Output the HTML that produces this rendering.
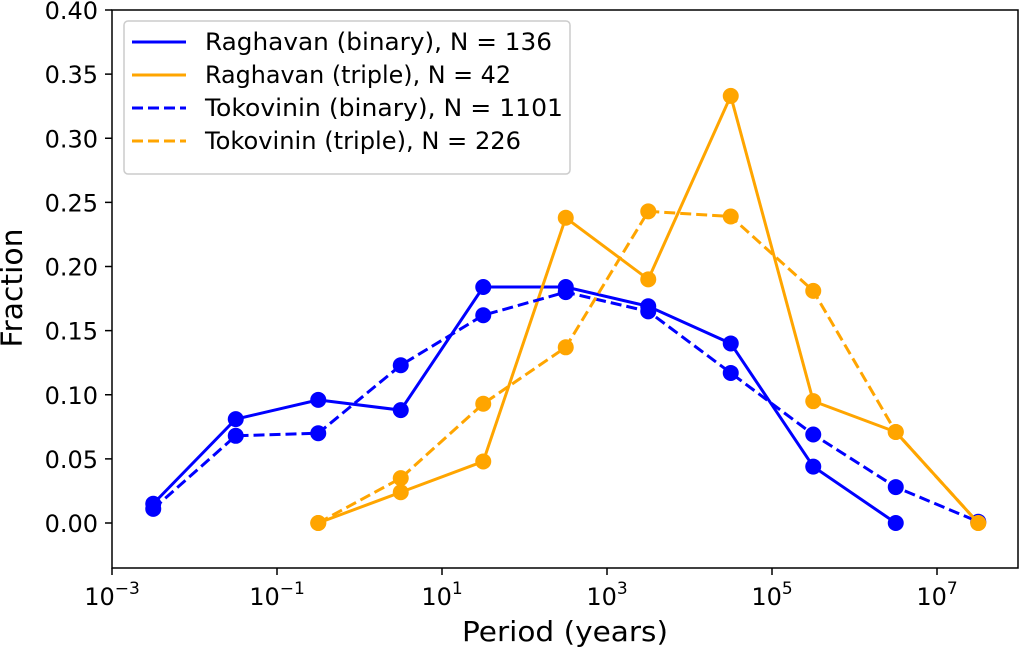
<!DOCTYPE html>
<html><head><meta charset="utf-8"><style>
html,body{margin:0;padding:0;background:#fff;}
svg{display:block;font-family:"DejaVu Sans","Liberation Sans",sans-serif;}
</style></head><body>
<svg id="chart" width="1020" height="652"></svg>
<script>
const categories = [-2.5,-1.5,-0.5,0.5,1.5,2.5,3.5,4.5,5.5,6.5,7.5];
const raghavanBinary = [0.015,0.081,0.096,0.088,0.184,0.184,0.169,0.140,0.044,0.0,null];
const tokovininBinary = [0.011,0.068,0.070,0.123,0.162,0.180,0.165,0.117,0.069,0.028,0.001];
const raghavanTriple = [null,null,0.0,0.024,0.048,0.238,0.190,0.333,0.095,0.071,0.0];
const tokovininTriple = [null,null,0.0,0.035,0.093,0.137,0.243,0.239,0.181,0.071,0.0];
const yTicks = [0,0.05,0.10,0.15,0.20,0.25,0.30,0.35,0.40];
const xTicks = [-3,-1,1,3,5,7];
const seriesNames = ["Raghavan (binary), N = 136","Raghavan (triple), N = 42","Tokovinin (binary), N = 1101","Tokovinin (triple), N = 226"];

const NS="http://www.w3.org/2000/svg";
const svg=document.getElementById('chart');
const L=112,R=1018,T=10,B=568;
const x=v=>112+(v+3)*82.5;
const y=v=>523-v*1282.5;
function el(tag,attrs,parent){const e=document.createElementNS(NS,tag);for(const k in attrs)e.setAttribute(k,attrs[k]);(parent||svg).appendChild(e);return e;}

yTicks.forEach(t=>{
  const g=el('g',{});
  
  
  el('line',{x1:L-7,x2:L,y1:y(t),y2:y(t),stroke:'#000','stroke-width':1.5},g);
  const tx=el('text',{x:L-14,y:y(t)+9,'text-anchor':'end','font-size':24},g);
  tx.textContent=t.toFixed(2);
});
xTicks.forEach(t=>{
  const g=el('g',{});
  
  
  el('line',{x1:x(t),x2:x(t),y1:B,y2:B+7,stroke:'#000','stroke-width':1.5},g);
  const tx=el('text',{x:x(t),y:B+37,'text-anchor':'middle','font-size':24},g);
  tx.textContent='10';
  const s=el('tspan',{dy:-11,'font-size':17},tx);s.textContent=(t<0?'\u2212':'')+Math.abs(t);
});

function series(vals,color,dash,name){
  const g=el('g',{});
  
  
  const pts=[];vals.forEach((v,i)=>{if(v!==null)pts.push([x(categories[i]),y(v)]);});
  el('polyline',{points:pts.map(p=>p.join(',')).join(' '),fill:'none',stroke:color,'stroke-width':3,'stroke-dasharray':dash||'none'},g);
  pts.forEach(p=>{const c=el('circle',{cx:p[0],cy:p[1],r:8,fill:color},g);});
}
series(raghavanBinary,'#0000ff',null,'raghavan-binary-series');
series(raghavanTriple,'#ffa500',null,'raghavan-triple-series');
series(tokovininBinary,'#0000ff','11 5','tokovinin-binary-series');
series(tokovininTriple,'#ffa500','11 5','tokovinin-triple-series');

const fr=el('rect',{x:L,y:T,width:R-L,height:B-T,fill:'none',stroke:'#000','stroke-width':1.5});


const lg=el('g',{});


el('rect',{x:124,y:21,width:446,height:153,rx:4,fill:'#fff','fill-opacity':0.8,stroke:'#ccc','stroke-width':1.5},lg);
const cols=['#0000ff','#ffa500','#0000ff','#ffa500'],dashes=[null,null,'11 5','11 5'];
const widths=[347,306,358,316];
seriesNames.forEach((n,i)=>{
  const e=el('g',{},lg);
  
  
  const yy=42+i*33;
  el('line',{x1:132,x2:186,y1:yy,y2:yy,stroke:cols[i],'stroke-width':3,'stroke-dasharray':dashes[i]||'none'},e);
  const t=el('text',{x:205,y:yy+8,'font-size':24,textLength:widths[i],lengthAdjust:'spacingAndGlyphs'},e);t.textContent=n;
});

const xl=el('text',{x:565,y:641,'text-anchor':'middle','font-size':28,textLength:206,lengthAdjust:'spacingAndGlyphs'});xl.textContent='Period (years)';

const yl=el('text',{x:22,y:288,'text-anchor':'middle','font-size':29,textLength:119,lengthAdjust:'spacingAndGlyphs',transform:'rotate(-90 22 288)'});yl.textContent='Fraction';

</script>
</body></html>
